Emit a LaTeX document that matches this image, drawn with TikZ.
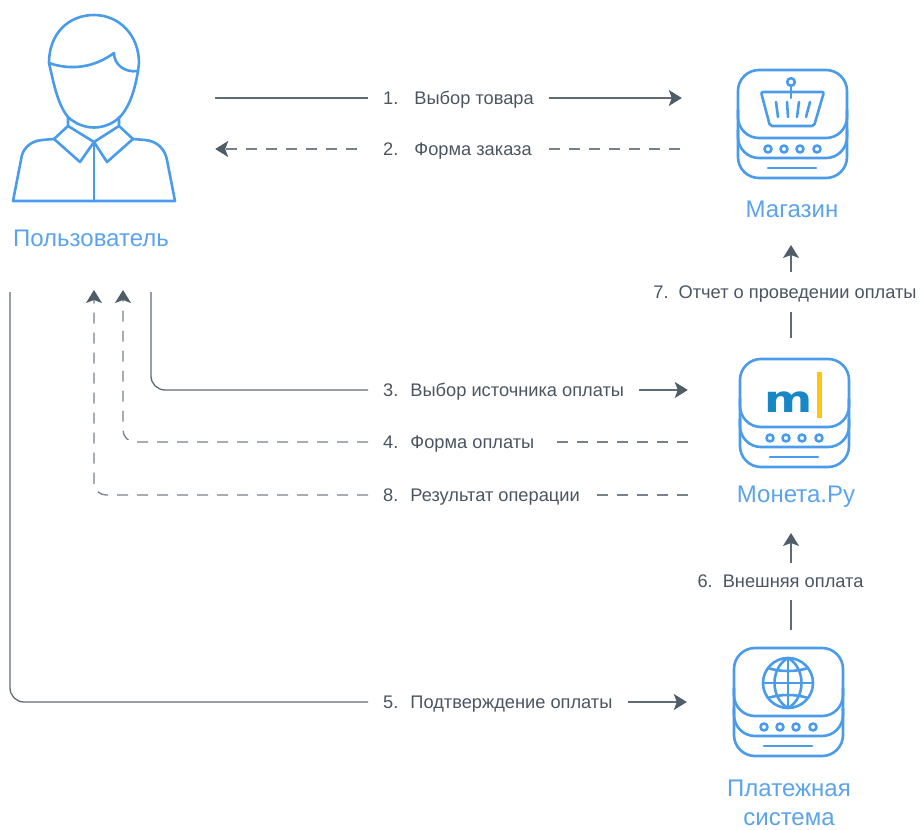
\documentclass[tikz,border=0pt]{standalone}
\usepackage{fontspec}
\setmainfont{Liberation Sans}
\newfontfamily\logofont{DejaVu Sans}
\usetikzlibrary{arrows.meta}
\definecolor{iconblue}{HTML}{4A9BEA}
\definecolor{nameblue}{HTML}{5BA3EC}
\definecolor{linegray}{HTML}{5F6B76}
\definecolor{tipgray}{HTML}{4F5D69}
\definecolor{textgray}{HTML}{4A5560}
\definecolor{logoblue}{HTML}{1787C5}
\definecolor{logoyellow}{HTML}{FFC60B}
\tikzset{
  server/.pic={
    \draw[iconline, rounded corners=21pt] (0,0) rectangle (109,68);
    \draw[iconline, rounded corners=21pt] (0,40) -- (0,88) -- (109,88) -- (109,40);
    \draw[iconline, rounded corners=21pt] (0,60) -- (0,108) -- (109,108) -- (109,60);
    \foreach \dotx in {30,46,62,79}
      \draw[iconline] (\dotx,79) circle (3.5);
    \draw[iconline] (30,98) -- (78,98);
  },
  iconline/.style={draw=iconblue, line width=2.6pt, line cap=round, line join=round},
}
\begin{document}
\begin{tikzpicture}[
    x=1pt, y=-1pt,
    flow/.style={draw=linegray, line width=1.3pt},
    dashflow/.style={flow, draw=linegray!85, dash pattern=on 11pt off 9pt},
    flowtip/.style={-{Stealth[length=13pt, width=16pt, inset=3pt, color=tipgray]}},
    steplabel/.style={font=\fontsize{18.25}{21}\selectfont, text=textgray, text height=16pt, text depth=4pt, inner xsep=15pt, inner ysep=0pt, anchor=west},
    nametext/.style={font=\fontsize{24}{29}\selectfont, text=nameblue, align=center},
    icon/.style={minimum width=#1, minimum height=108pt, inner sep=0pt},
  ]
  \useasboundingbox (0,0) rectangle (922,830);

  \node[icon=162pt] (user) at (94,108) {};
  \node[icon=109pt] (shop) at (792.5,124) {};
  \node[icon=109pt] (moneta) at (794.5,413) {};
  \node[icon=109pt] (paysys) at (788.5,702) {};

  \node[nametext] (usertext) at (91,238) {Пользователь};
  \node[nametext] (shoptext) at (792,209) {Магазин};
  \node[nametext] (monetatext) at (796,497) {Монета.Ру};
  \node[nametext] (paytext) at (789,803) {Платежная\\система};

  % user
  \draw[iconline] (49,63) .. controls (49,33) and (69,15) .. (94,15) .. controls (119,15) and (139,35) .. (139,63) -- (138,71)
    .. controls (134,95) and (128,108) .. (120,117) .. controls (105,131) and (83,131) .. (68,117)
    .. controls (58,105) and (54,85) .. (49,63);
  \draw[iconline] (49,63) .. controls (72,71) and (95,67) .. (114,53) .. controls (114,64) and (124,73) .. (138,71);
  \draw[iconline] (68,117) -- (68,126) -- (54,139) -- (80,162) -- (94,142) -- (107,162) -- (133,139) -- (119,126) -- (119,117);
  \draw[iconline] (68,126) -- (94,142) -- (119,126);
  \draw[iconline] (54,139) -- (42,140) .. controls (30,141) and (22,149) .. (21,160) -- (13,201) -- (175,201) -- (167,160)
    .. controls (165,149) and (157,141) .. (145,140) -- (133,139);
  \draw[iconline] (94,142) -- (94,201);

  % shop
  \pic at (738,70) {server};
  \draw[iconline] (791,82) circle (3.8);
  \draw[iconline] (791,86) -- (791,98);
  \draw[iconline, rounded corners=2pt] (761,92) -- (824,92) -- (814,126) -- (770,126) -- cycle;
  \draw[iconline] (776,102) -- (778,117);
  \draw[iconline] (787,102) -- (788,117);
  \draw[iconline] (799,102) -- (797,117);
  \draw[iconline] (810,102) -- (806,117);

  % moneta
  \pic at (740,359) {server};
  \node[font=\logofont\bfseries\fontsize{37}{37}\selectfont, text=logoblue, xscale=1.25, inner sep=0pt] (logom) at (789,402) {m};
  \fill[logoyellow] (817,372) rectangle (822,418);

  % payment system
  \pic at (734,648) {server};
  \draw[iconline] (788,683) circle (25);
  \draw[iconline] (788,658) -- (788,708);
  \draw[iconline] (763,683) -- (813,683);
  \draw[iconline] (788,658) .. controls (770,668) and (770,698) .. (788,708);
  \draw[iconline] (788,658) .. controls (806,668) and (806,698) .. (788,708);
  \draw[iconline] (768,668) .. controls (780,672) and (796,672) .. (808,668);
  \draw[iconline] (768,698) .. controls (780,694) and (796,694) .. (808,698);

  \node[steplabel] (l1) at (368,98) {1.\hspace{16pt}Выбор товара};
  \node[steplabel] (l2) at (368,149) {2.\hspace{16pt}Форма заказа};
  \node[steplabel] (l3) at (368,390) {3.\hspace{12pt}Выбор источника оплаты};
  \node[steplabel] (l4) at (368,442) {4.\hspace{12pt}Форма оплаты};
  \node[steplabel] (l8) at (368,495) {8.\hspace{12pt}Результат операции};
  \node[steplabel] (l5) at (368,702) {5.\hspace{12pt}Подтверждение оплаты};
  \node[steplabel, anchor=center, inner xsep=0pt, inner ysep=10pt] (l7) at (785,292) {7.\hspace{10pt}Отчет о проведении оплаты};
  \node[steplabel, anchor=center, inner xsep=0pt, inner ysep=10pt] (l6) at (780.5,581) {6.\hspace{10pt}Внешняя оплата};

  \coordinate (u3) at (151,292);
  \coordinate (u4) at (123,290);
  \coordinate (u8) at (94,290);
  \coordinate (u5) at (10,292);
  \coordinate (s7) at (791,338);
  \coordinate (t7) at (791,245);
  \coordinate (s6) at (791,630);
  \coordinate (t6) at (791,533);
  \coordinate (b7) at (791,312);
  \coordinate (c7) at (791,272);
  \coordinate (b6) at (791,600);
  \coordinate (c6) at (791,563);

  \draw[flow, shorten <=40pt] (user.east |- l1) -- (l1);
  \draw[flow, flowtip, shorten >=56pt] (l1) -- (shop.west |- l1);
  \draw[dashflow, flowtip, shorten <=11pt, shorten >=40pt] (l2) -- (user.east |- l2);
  \draw[dashflow, shorten <=58pt] (shop.west |- l2) -- (l2);

  \draw[flow, rounded corners=14pt] (u3) |- (l3);
  \draw[flow, flowtip, shorten >=52pt] (l3) -- (moneta.west |- l3);
  \draw[dashflow, flowtip, rounded corners=12pt] (l4) -| (u4);
  \draw[dashflow, shorten <=52pt] (moneta.west |- l4) -- (l4);
  \draw[dashflow, flowtip, rounded corners=12pt] (l8) -| (u8);
  \draw[dashflow, shorten <=52pt] (moneta.west |- l8) -- (l8);

  \draw[flow, rounded corners=14pt] (u5) |- (l5);
  \draw[flow, flowtip, shorten >=47pt] (l5) -- (paysys.west |- l5);

  \draw[flow] (s7) -- (b7);
  \draw[flow, flowtip] (c7) -- (t7);
  \draw[flow] (s6) -- (b6);
  \draw[flow, flowtip] (c6) -- (t6);
\end{tikzpicture}
\end{document}
